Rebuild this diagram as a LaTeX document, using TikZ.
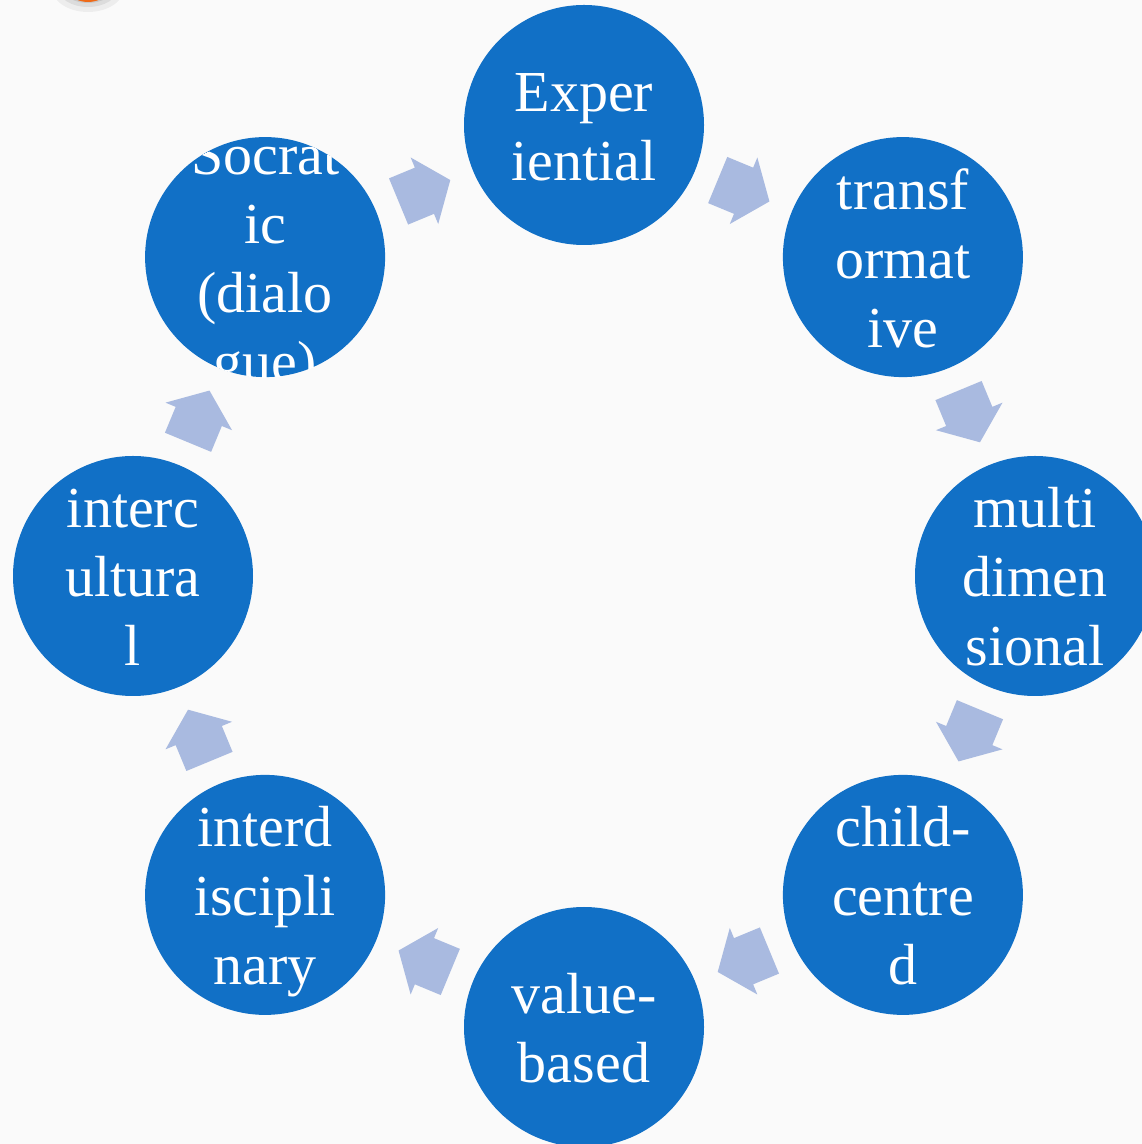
\documentclass[tikz,border=0pt]{standalone}
\usepackage{fontspec}
\setmainfont{Liberation Serif}
\usetikzlibrary{calc}
\definecolor{bubblecol}{RGB}{17,112,198}
\definecolor{arrowcol}{RGB}{169,186,224}
\definecolor{bgcol}{RGB}{250,250,250}
\definecolor{blobcol}{RGB}{238,106,24}
\tikzset{
  bubblefill/.style={fill=bubblecol},
  linetext/.style={text=white, font=\fontsize{58pt}{69pt}\selectfont, inner sep=0pt, anchor=base},
  cyclearrow/.style={fill=arrowcol},
}
\newcommand{\bubble}[4]{%
  \node[circle, minimum size=240pt, inner sep=0pt, outer sep=0pt, bubblefill] (#1) at (#2:451) {};
  \begin{scope}
    \clip (#2:451) circle[radius=120pt];
    \foreach \t [count=\i] in {#4} {
      \pgfmathsetmacro{\yy}{-21+(#3-1)*34.5-(\i-1)*69}
      \node[linetext] (#1-\i) at ($(#2:451)+(0,\yy)$) {\t};
    }
  \end{scope}
}
\newcommand{\cyclearr}[1]{%
  \path[cyclearrow, shift={(#1:417)}, rotate=#1-90]
    (-28,-25) -- (0,-25) -- (0,-36) -- (28,0) -- (0,36) -- (0,25) -- (-28,25) -- cycle;
}
\begin{document}
\begin{tikzpicture}[x=1pt,y=1pt]
  \useasboundingbox (0,0) rectangle (1142,1144);
  \clip (0,0) rectangle (1142,1144);
  \fill[bgcol] (0,0) rectangle (1142,1144);
  % corner blob
  \fill[black, opacity=0.05] (88,1156) ellipse[x radius=36, y radius=24];
  \fill[black, opacity=0.07] (88,1156) ellipse[x radius=30, y radius=19];
  \fill[black, opacity=0.09] (88,1156) ellipse[x radius=25, y radius=15];
  \fill[blobcol] (88,1158) ellipse[x radius=22, y radius=16];
  \begin{scope}[shift={(584,568)}]
    \bubble{exp}{90}{2}{{Exper},{iential}}
    \bubble{trans}{45}{3}{{transf},{ormat},{ive}}
    \bubble{multi}{0}{3}{{multi},{dimen},{sional}}
    \bubble{child}{-45}{3}{{child-},{centre},{d}}
    \bubble{value}{-90}{2}{{value-},{based}}
    \bubble{interd}{-135}{3}{{interd},{iscipli},{nary}}
    \bubble{interc}{180}{3}{{interc},{ultura},{l}}
    \bubble{socr}{135}{4}{{Socrat},{ic},{(dialo},{gue)}}
    \cyclearr{112.5}
    \cyclearr{67.5}
    \cyclearr{22.5}
    \cyclearr{-22.5}
    \cyclearr{-67.5}
    \cyclearr{-112.5}
    \cyclearr{-157.5}
    \cyclearr{157.5}
  \end{scope}
\end{tikzpicture}
\end{document}
